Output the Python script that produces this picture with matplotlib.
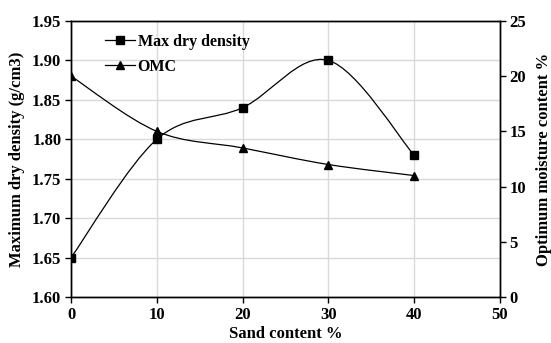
import numpy as np
import matplotlib.pyplot as plt
from matplotlib.path import Path
from matplotlib.patches import PathPatch

plt.rcParams['font.family'] = ['Liberation Serif', 'DejaVu Serif']
plt.rcParams['font.weight'] = 'bold'

sand = [0, 10, 20, 30, 40]
max_dry_density = [1.65, 1.80, 1.84, 1.90, 1.78]
omc = [20.0, 15.0, 13.5, 12.0, 11.0]


def smooth_path(xs, ys):
    # Excel-like smoothed line: cubic bezier through each point
    pts = np.column_stack([xs, ys]).astype(float)
    n = len(pts)
    verts = [pts[0]]
    codes = [Path.MOVETO]
    for i in range(n - 1):
        p0 = pts[i - 1] if i > 0 else pts[i]
        p1 = pts[i]
        p2 = pts[i + 1]
        p3 = pts[i + 2] if i + 2 < n else pts[i + 1]
        c1 = p1 + (p2 - p0) / 6.0
        c2 = p2 - (p3 - p1) / 6.0
        verts += [c1, c2, p2]
        codes += [Path.CURVE4] * 3
    return Path(verts, codes)


fig = plt.figure(figsize=(5.51, 3.43), dpi=100)
ax = fig.add_axes([0.129, 0.134, 0.778, 0.805])
ax2 = ax.twinx()

ax.add_patch(PathPatch(smooth_path(sand, max_dry_density), fill=False,
                       edgecolor='black', lw=0.9, transform=ax.transData))
ax.plot(sand, max_dry_density, ls='none', marker='s', ms=6, color='black')
ax2.add_patch(PathPatch(smooth_path(sand, omc), fill=False,
                        edgecolor='black', lw=0.9, transform=ax2.transData))
ax2.plot(sand, omc, ls='none', marker='^', ms=5.5, color='black')

ax.set_xlim(0, 50)
ax.set_ylim(1.60, 1.95)
ax2.set_ylim(0, 25)
ax.set_xticks(range(0, 51, 10))
ax.set_yticks(np.arange(1.60, 1.951, 0.05))
ax.set_yticklabels([f'{v:.2f}' for v in np.arange(1.60, 1.951, 0.05)])
ax2.set_yticks(range(0, 26, 5))

ax.grid(True, color='#d9d9d9', lw=1)
ax.set_axisbelow(True)
for a in (ax, ax2):
    a.tick_params(labelsize=12, length=4, width=1, colors='black', pad=3)
    for s in a.spines.values():
        s.set_linewidth(1)
        s.set_color('black')

ax.set_xlabel('Sand content %', fontsize=12, fontweight='bold', labelpad=2)
ax.set_ylabel('Maximum dry density (g/cm3)', fontsize=12, fontweight='bold', labelpad=5)
ax2.set_ylabel('Optimum moisture content %', fontsize=12, fontweight='bold', labelpad=7)

h1 = plt.Line2D([], [], color='black', marker='s', ms=6, lw=0.9)
h2 = plt.Line2D([], [], color='black', marker='^', ms=5.5, lw=0.9)
ax.legend([h1, h2], ['Max dry density', 'OMC'], loc='upper left',
          bbox_to_anchor=(0.079, 0.953), frameon=False, fontsize=11.5,
          borderpad=0, borderaxespad=0,
          handlelength=1.9, handletextpad=0.15, labelspacing=0.55)

fig.savefig('out.png', dpi=100)
